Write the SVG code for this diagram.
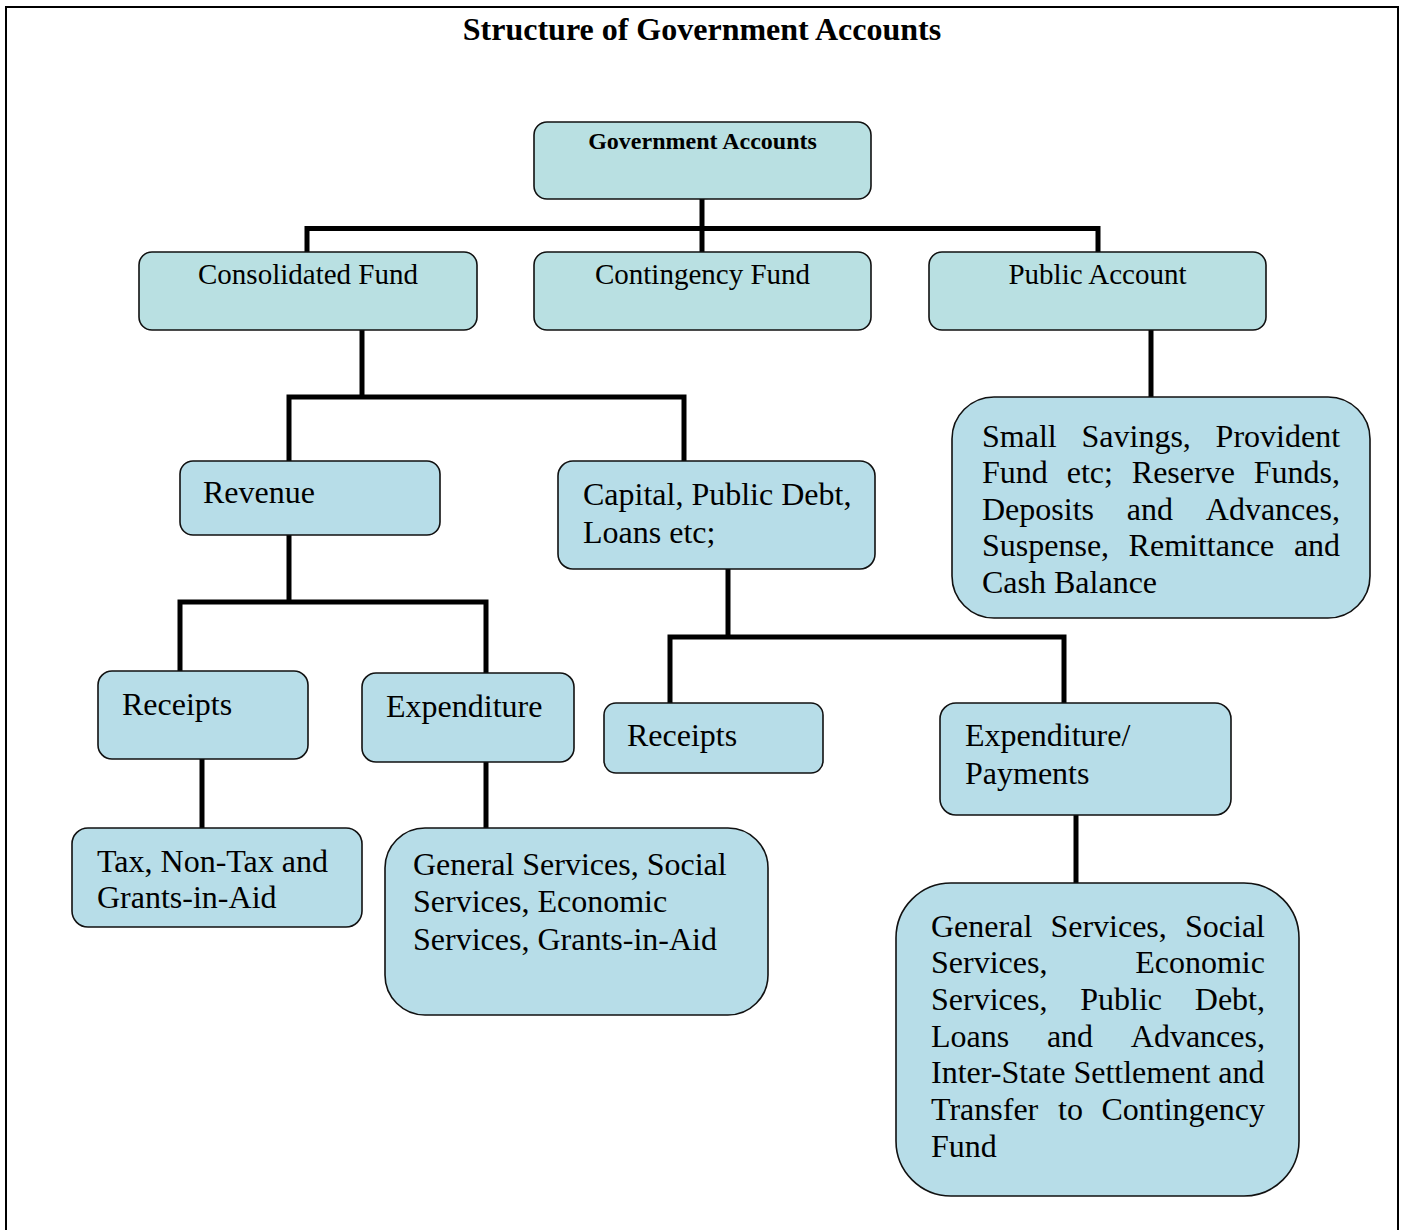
<svg xmlns="http://www.w3.org/2000/svg" width="1404" height="1230" viewBox="0 0 1404 1230">
<style>
text{font-family:"Liberation Serif","Times New Roman",serif;fill:#000}
.title{font-size:32px;font-weight:bold}
.gov{font-size:24px;font-weight:bold}
.top{font-size:29px}
.body{font-size:32px}
.boxA{fill:#b9e0e2;stroke:#111;stroke-width:1.6}
.boxB{fill:#b7dde8;stroke:#111;stroke-width:1.6}
.conn{fill:none;stroke:#000;stroke-width:5;stroke-linejoin:miter;stroke-linecap:butt}
</style>
<rect x="0" y="0" width="1404" height="1230" fill="#fff"/>
<rect x="6" y="7" width="1392" height="1260" fill="none" stroke="#000" stroke-width="2"/>
<text class="title" x="702" y="40" text-anchor="middle">Structure of Government Accounts</text>

<g id="connectors">
<path class="conn" d="M702,199 V252"/>
<path class="conn" d="M307,252 V228.5 H1098 V252"/>
<path class="conn" d="M362,330 V397"/>
<path class="conn" d="M289,461 V397 H684 V461"/>
<path class="conn" d="M1151,330 V397"/>
<path class="conn" d="M289,535 V602"/>
<path class="conn" d="M180,671 V602 H486 V673"/>
<path class="conn" d="M202,759 V828"/>
<path class="conn" d="M486,762 V828"/>
<path class="conn" d="M728,569 V637"/>
<path class="conn" d="M670,703 V637 H1064 V703"/>
<path class="conn" d="M1076,815 V883"/>
</g>

<g id="gov-accounts">
<rect class="boxA" x="534" y="122" width="337" height="77" rx="13"/>
<text class="gov" x="702.5" y="149" text-anchor="middle">Government Accounts</text>
</g>
<g id="consolidated-fund">
<rect class="boxA" x="139" y="252" width="338" height="78" rx="13"/>
<text class="top" x="308" y="284" text-anchor="middle">Consolidated Fund</text>
</g>
<g id="contingency-fund">
<rect class="boxA" x="534" y="252" width="337" height="78" rx="13"/>
<text class="top" x="702.5" y="284" text-anchor="middle">Contingency Fund</text>
</g>
<g id="public-account">
<rect class="boxA" x="929" y="252" width="337" height="78" rx="13"/>
<text class="top" x="1097.5" y="284" text-anchor="middle">Public Account</text>
</g>

<g id="public-account-items">
<rect class="boxB" x="952" y="397" width="418" height="221" rx="42"/>
<text class="body" y="447"><tspan x="982">Small</tspan><tspan x="1081.5">Savings,</tspan><tspan x="1215.6">Provident</tspan></text>
<text class="body" y="483"><tspan x="982">Fund</tspan><tspan x="1066.7">etc;</tspan><tspan x="1131.8">Reserve</tspan><tspan x="1253.8">Funds,</tspan></text>
<text class="body" y="520"><tspan x="982">Deposits</tspan><tspan x="1126.8">and</tspan><tspan x="1205.8">Advances,</tspan></text>
<text class="body" y="556"><tspan x="982">Suspense,</tspan><tspan x="1128.6">Remittance</tspan><tspan x="1293.9">and</tspan></text>
<text class="body" y="593"><tspan x="982">Cash Balance</tspan></text>
</g>

<g id="revenue">
<rect class="boxB" x="180" y="461" width="260" height="74" rx="13"/>
<text class="body" x="203" y="503">Revenue</text>
</g>
<g id="capital">
<rect class="boxB" x="558" y="461" width="317" height="108" rx="15"/>
<text class="body" x="583" y="505">Capital, Public Debt,</text>
<text class="body" x="583" y="543">Loans etc;</text>
</g>

<g id="revenue-receipts">
<rect class="boxB" x="98" y="671" width="210" height="88" rx="14"/>
<text class="body" x="122" y="715">Receipts</text>
</g>
<g id="revenue-expenditure">
<rect class="boxB" x="362" y="673" width="212" height="89" rx="14"/>
<text class="body" x="386" y="717">Expenditure</text>
</g>
<g id="capital-receipts">
<rect class="boxB" x="604" y="703" width="219" height="70" rx="12"/>
<text class="body" x="627" y="746">Receipts</text>
</g>
<g id="capital-expenditure">
<rect class="boxB" x="940" y="703" width="291" height="112" rx="16"/>
<text class="body" x="965" y="746">Expenditure/</text>
<text class="body" x="965" y="784">Payments</text>
</g>

<g id="tax-items">
<rect class="boxB" x="72" y="828" width="290" height="99" rx="16"/>
<text class="body" x="97" y="872">Tax, Non-Tax and</text>
<text class="body" x="97" y="908">Grants-in-Aid</text>
</g>
<g id="revenue-expenditure-items">
<rect class="boxB" x="385" y="828" width="383" height="187" rx="40"/>
<text class="body" x="413" y="875">General Services, Social</text>
<text class="body" x="413" y="912">Services, Economic</text>
<text class="body" x="413" y="950">Services, Grants-in-Aid</text>
</g>
<g id="capital-expenditure-items">
<rect class="boxB" x="896" y="883" width="403" height="313" rx="55"/>
<text class="body" y="937"><tspan x="931">General</tspan><tspan x="1050.4">Services,</tspan><tspan x="1185">Social</tspan></text>
<text class="body" y="973"><tspan x="931">Services,</tspan><tspan x="1135.2">Economic</tspan></text>
<text class="body" y="1010"><tspan x="931">Services,</tspan><tspan x="1080.2">Public</tspan><tspan x="1194.8">Debt,</tspan></text>
<text class="body" y="1047"><tspan x="931">Loans</tspan><tspan x="1046.9">and</tspan><tspan x="1130.8">Advances,</tspan></text>
<text class="body" x="931" y="1083">Inter-State Settlement and</text>
<text class="body" y="1120"><tspan x="931">Transfer</tspan><tspan x="1058">to</tspan><tspan x="1101.4">Contingency</tspan></text>
<text class="body" x="931" y="1157">Fund</text>
</g>
</svg>
